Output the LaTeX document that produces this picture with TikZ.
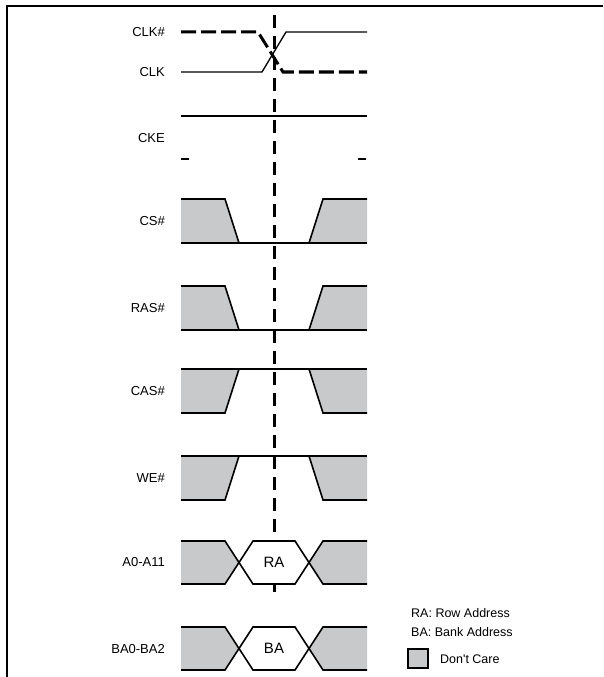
\documentclass[tikz,border=0pt]{standalone}
\usepackage{fontspec}
\setmainfont{Liberation Sans}
\definecolor{dcgray}{RGB}{200,201,202}
\begin{document}
\begin{tikzpicture}[x=1pt,y=-1pt,
  sig/.style={line width=1.6pt,line join=miter},
  lbl/.style={anchor=east,inner sep=0pt,font=\fontsize{13}{15}\selectfont},
  hexlbl/.style={inner sep=0pt,font=\fontsize{15}{17}\selectfont},
  leg/.style={anchor=west,inner sep=0pt,font=\fontsize{12.5}{14}\selectfont},
  clkdash/.style={line width=3pt,dash pattern=on 15pt off 5pt},
  vdash/.style={line width=3pt,dash pattern=on 13pt off 8pt}]
\useasboundingbox (0,0) rectangle (603,677);
% frame
\draw[line width=1.3pt] (7,677) -- (7,6) -- (603,6);
% vertical reference line
\coordinate (vtop) at (274,15);
\coordinate (vbot) at (274,592);
\draw[vdash] (vtop) -- (vbot);
% labels
\node[lbl] (lclkn) at (165,32) {CLK\#};
\node[lbl] (lclk) at (165,72) {CLK};
\node[lbl] (lcke) at (165,138) {CKE};
\node[lbl] (lcs) at (165,221) {CS\#};
\node[lbl] (lras) at (165,308) {RAS\#};
\node[lbl] (lcas) at (165,391) {CAS\#};
\node[lbl] (lwe) at (165,478) {WE\#};
\node[lbl] (la) at (165,562) {A0-A11};
\node[lbl] (lba) at (165,649) {BA0-BA2};
% CLK / CLK#
\draw[sig,line width=1.3pt] (181,72) -- (262,72) -- (286,32) -- (367,32);
\draw[clkdash] (181,32) -- (258,32) -- (283,72) -- (367,72);
% CKE
\draw[sig] (181,116) -- (367,116);
\draw[sig] (181,159) -- (189,159);
\draw[sig] (358,159) -- (366,159);
% CS#, RAS# (high -> low -> high)
\foreach \t/\b in {199/243, 286/330}{
  \fill[dcgray] (181,\t) -- (225,\t) -- (239,\b) -- (181,\b) -- cycle;
  \fill[dcgray] (309,\b) -- (323,\t) -- (367,\t) -- (367,\b) -- cycle;
  \draw[sig] (181,\t) -- (225,\t) -- (239,\b);
  \draw[sig] (309,\b) -- (323,\t) -- (367,\t);
  \draw[sig] (181,\b) -- (367,\b);
}
% CAS#, WE# (low -> high -> low)
\foreach \t/\b in {369/413, 456/500}{
  \fill[dcgray] (181,\t) -- (239,\t) -- (225,\b) -- (181,\b) -- cycle;
  \fill[dcgray] (309,\t) -- (367,\t) -- (367,\b) -- (323,\b) -- cycle;
  \draw[sig] (181,\b) -- (225,\b) -- (239,\t);
  \draw[sig] (309,\t) -- (323,\b) -- (367,\b);
  \draw[sig] (181,\t) -- (367,\t);
}
% A0-A11 and BA0-BA2 (bus)
\foreach \t/\b/\txt/\nm in {541/584/RA/ra, 627/670/BA/ba}{
  \pgfmathsetmacro{\m}{(\t+\b)/2}
  \fill[dcgray] (181,\t) -- (225,\t) -- (239,\m) -- (225,\b) -- (181,\b) -- cycle;
  \fill[dcgray] (367,\t) -- (323,\t) -- (309,\m) -- (323,\b) -- (367,\b) -- cycle;
  \fill[white] (239,\m) -- (253,\t) -- (295,\t) -- (309,\m) -- (295,\b) -- (253,\b) -- cycle;
  \draw[sig] (181,\t) -- (225,\t) -- (253,\b) -- (295,\b) -- (323,\t) -- (367,\t);
  \draw[sig] (181,\b) -- (225,\b) -- (253,\t) -- (295,\t) -- (323,\b) -- (367,\b);
  \node[hexlbl] (\nm) at (274,\m) {\txt};
}
% legend
\node[leg] (lgra) at (411,613) {RA: Row Address};
\node[leg] (lgba) at (411,632) {BA: Bank Address};
\draw[line width=2.2pt,fill=dcgray] (408,649) rectangle (428,668);
\node[leg] (lgdc) at (440,659) {Don\textquotesingle t Care};
\end{tikzpicture}
\end{document}
